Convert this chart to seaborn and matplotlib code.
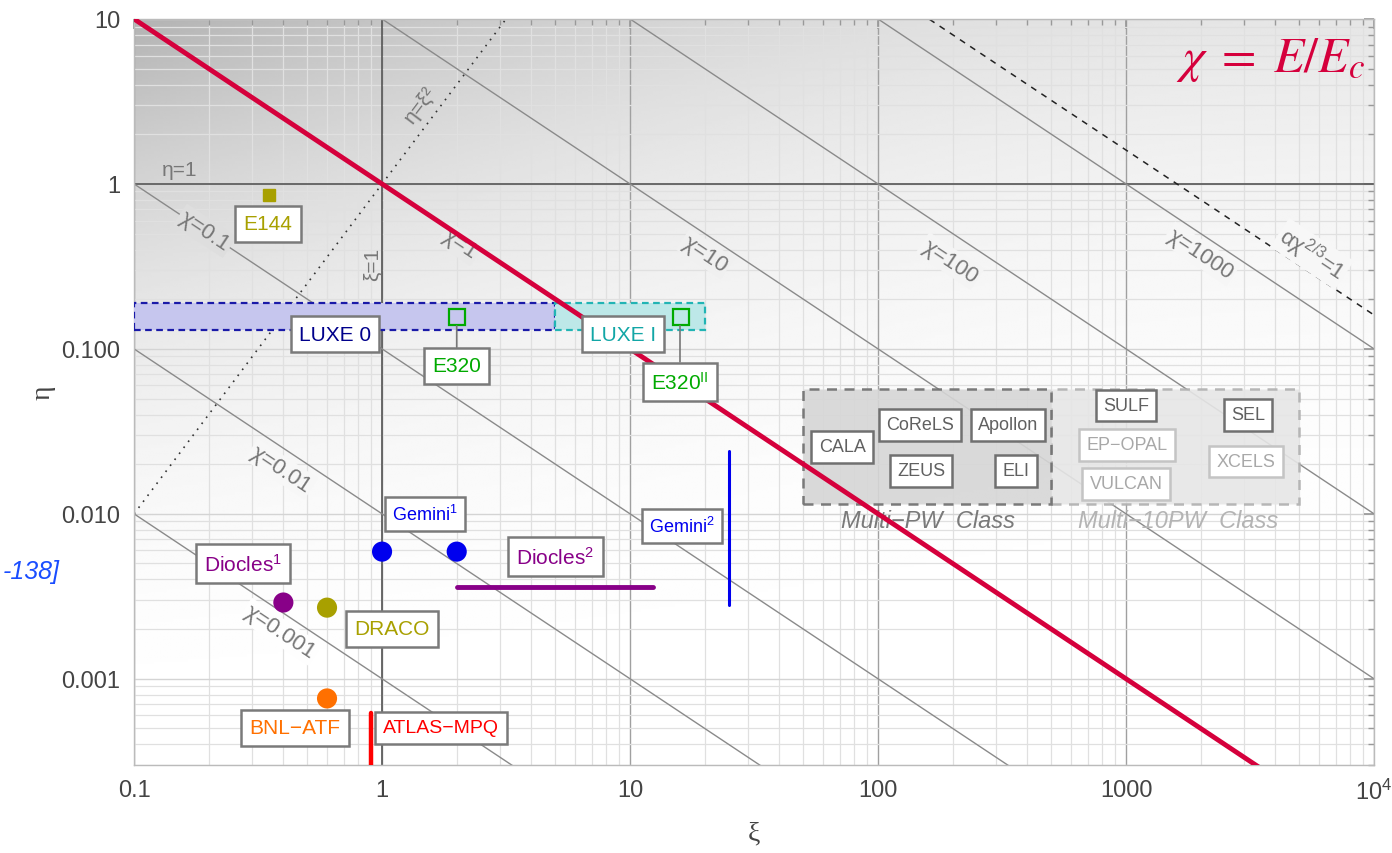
import numpy as np
import pandas as pd
import matplotlib
matplotlib.use("Agg")
import matplotlib.pyplot as plt
import seaborn as sns
from matplotlib.patches import Rectangle
from matplotlib.ticker import FixedLocator, FixedFormatter, LogLocator, NullFormatter

# ---- data ----
chi_levels = [0.001, 0.01, 0.1, 1, 10, 100, 1000]
chi_texts = ["χ=0.001", "χ=0.01", "χ=0.1", "χ=1", "χ=10", "χ=100", "χ=1000"]
chi_label_xi = [0.388, 0.392, 0.193, 2.06, 20.1, 195, 2003]
chi_label_eta = [0.00193, 0.0187, 0.52, 0.433, 0.377, 0.341, 0.377]
alpha_fs = 1 / 137.036
chi_rad = alpha_fs ** -1.5  # alpha chi^(2/3) = 1

point_names = ["Gemini", "Gemini", "Diocles", "DRACO", "BNL-ATF"]
point_xi = [1.0, 2.0, 0.4, 0.6, 0.6]
point_eta = [0.0059, 0.0059, 0.0029, 0.0027, 0.00076]

e144_xi, e144_eta = 0.35, 0.86
e320_xi = [2.0, 16.0]
e320_eta = [0.155, 0.155]

luxe_eta = [0.13, 0.19]
luxe0_xi = [0.1, 5.0]
luxe1_xi = [5.0, 20.0]

gemini2_xi = 25.0
gemini2_eta = [0.0028, 0.024]
diocles2_xi = [2.0, 12.4]
diocles2_eta = 0.0036
atlas_xi = 0.9
atlas_eta = [0.0001, 0.00062]

pw_eta = [0.0115, 0.057]
pw_xi = [50, 500]
pw10_xi = [500, 5000]

x_ticks = [0.1, 1, 10, 100, 1000, 10000]
x_ticklabels = ["0.1", "1", "10", "100", "1000", "$10^4$"]
y_ticks = [0.001, 0.01, 0.1, 1, 10]
y_ticklabels = ["0.001", "0.010", "0.100", "1", "10"]

colors = {"Gemini": "#0000ee", "Diocles": "#880088", "DRACO": "#a8a000",
          "BNL-ATF": "#ff7000"}
red = "#d5003c"

# ---- style ----
sns.set_theme(style="white")
plt.rcParams["font.family"] = ["Liberation Sans", "DejaVu Sans"]
plt.rcParams["mathtext.fontset"] = "custom"
plt.rcParams["mathtext.rm"] = "Liberation Sans"
plt.rcParams["mathtext.it"] = "Liberation Sans:italic"
plt.rcParams["mathtext.bf"] = "Liberation Sans:bold"


def bg_level(u, v):
    # u: 0 left -> 1 right, v: 0 top -> 1 bottom
    d = 0.10 * (1 - v) ** 3 + 0.20 * (1 - u) ** 2 * (1 - v) ** 2
    return 1 - d


fig = plt.figure(figsize=(13.92, 8.54), dpi=100)
rect = [0.0963, 0.103, 0.8908, 0.8736]
bg = fig.add_axes(rect, zorder=0)
uu, vv = np.meshgrid(np.linspace(0, 1, 400), np.linspace(0, 1, 300))
bg.imshow(bg_level(uu, vv), cmap="gray", vmin=0, vmax=1, aspect="auto",
          extent=[0, 1, 0, 1], origin="upper", interpolation="bilinear")
bg.axis("off")

ax = fig.add_axes(rect, zorder=1)
ax.set_facecolor("none")
ax.set_xscale("log")
ax.set_yscale("log")
ax.set_xlim(0.1, 1e4)
ax.set_ylim(3.0e-4, 10)

# grid
ax.xaxis.set_minor_locator(LogLocator(base=10, subs=np.arange(2, 10)))
ax.yaxis.set_minor_locator(LogLocator(base=10, subs=np.arange(2, 10)))
ax.xaxis.set_minor_formatter(NullFormatter())
ax.yaxis.set_minor_formatter(NullFormatter())
ax.grid(which="minor", color="#e0e0e0", lw=0.9, zorder=0)
ax.xaxis.grid(which="major", color="#a0a0a0", lw=1.0)
ax.yaxis.grid(which="major", color="#d4d4d4", lw=1.0)
ax.set_axisbelow(True)
ax.axhline(1, color="#606060", lw=1.3, zorder=1)
ax.axvline(1, color="#606060", lw=1.3, zorder=1)

ax.xaxis.set_major_locator(FixedLocator(x_ticks))
ax.xaxis.set_major_formatter(FixedFormatter(x_ticklabels))
ax.yaxis.set_major_locator(FixedLocator(y_ticks))
ax.yaxis.set_major_formatter(FixedFormatter(y_ticklabels))
ax.tick_params(which="both", direction="in", color="#999999", top=True, right=True,
               labelsize=17, labelcolor="#444444", pad=10)
ax.tick_params(which="major", length=7)
ax.tick_params(which="minor", length=4)
for s in ax.spines.values():
    s.set_color("#bbbbbb")
    s.set_linewidth(1.0)

ax.set_xlabel("ξ", fontsize=20, family="Liberation Serif", color="#444444", labelpad=12)
ax.set_ylabel("η", fontsize=20, family="Liberation Serif", color="#444444", labelpad=4)

# chi lines
xi_ends = np.array([0.1, 1e4])
for c in chi_levels:
    ax.plot(xi_ends, c / xi_ends, color="#8a8a8a", lw=1.0, zorder=2)
ax.plot(xi_ends, chi_rad / xi_ends, color="#222222", lw=1.1, ls=(0, (4, 4)), zorder=2)
ax.plot(xi_ends, xi_ends ** 2, color="#333333", lw=1.2, ls=(0, (1, 3.5)), zorder=2)


def label_bg(x, y):
    px = ax.transData.transform((x, y))
    u, v = ax.transAxes.inverted().transform(px)
    g = bg_level(u, 1 - v)
    return (g, g, g)


ang = -np.degrees(np.arctan(ax.get_position().height * 854 / 4.52 /
                            (ax.get_position().width * 1392 / 5)))
for t, x, y in zip(chi_texts, chi_label_xi, chi_label_eta):
    ax.text(x, y, t, fontsize=16, color="#777777", rotation=ang, ha="center", va="center",
            rotation_mode="anchor", zorder=3,
            bbox=dict(boxstyle="square,pad=0.1", fc=label_bg(x, y), ec="none"))
ax.text(5620, 0.377, r"αχ$^{\mathrm{2/3}}$=1", fontsize=16, color="#777777", rotation=ang,
        ha="center", va="center", rotation_mode="anchor", zorder=3,
        bbox=dict(boxstyle="square,pad=0.1", fc=label_bg(5620, 0.377), ec="none"))
ax.text(0.153, 1.22, "η=1", fontsize=15, color="#777777", ha="center", va="center", zorder=3)
ax.text(0.91, 0.33, "ξ=1", fontsize=15, color="#777777", rotation=90, ha="center",
        va="center", zorder=3)
ax.text(1.43, 3.06, "η=ξ²", fontsize=15, color="#777777", rotation=53, ha="center",
        va="center", zorder=3)

# red chi = 1 line
ax.plot(xi_ends, 1 / xi_ends, color=red, lw=3.5, zorder=4, solid_capstyle="butt")
ax.text(0.993, 0.946, r"$\chi\;=\;E/E_c$", transform=ax.transAxes, fontsize=36,
        color=red, ha="right", va="center", zorder=6, math_fontfamily="stix")

# LUXE bands
ax.add_patch(Rectangle((luxe0_xi[0], luxe_eta[0]), luxe0_xi[1] - luxe0_xi[0],
                       luxe_eta[1] - luxe_eta[0], fc="#c6c6ee", ec="#1a1aa8",
                       lw=1.6, ls=(0, (3, 2)), zorder=3))
ax.add_patch(Rectangle((luxe1_xi[0], luxe_eta[0]), luxe1_xi[1] - luxe1_xi[0],
                       luxe_eta[1] - luxe_eta[0], fc="#bde8e8", ec="#22b4b4",
                       lw=1.6, ls=(0, (3, 2)), zorder=3))

# PW class regions
ax.add_patch(Rectangle((pw10_xi[0], pw_eta[0]), pw10_xi[1] - pw10_xi[0],
                       pw_eta[1] - pw_eta[0], fc="#e6e6e6", ec="#b0b0b0",
                       lw=1.8, ls=(0, (4, 3)), alpha=0.9, zorder=2))
ax.add_patch(Rectangle((pw_xi[0], pw_eta[0]), pw_xi[1] - pw_xi[0],
                       pw_eta[1] - pw_eta[0], fc="#d6d6d6", ec="#6e6e6e",
                       lw=1.8, ls=(0, (4, 3)), alpha=0.9, zorder=2))

# facility points
pts = pd.DataFrame({"xi": point_xi, "eta": point_eta, "name": point_names})
sns.scatterplot(data=pts, x="xi", y="eta", hue="name", palette=colors, s=210,
                edgecolor="none", legend=False, ax=ax, zorder=5)
ax.set_xlabel("ξ")
ax.set_ylabel("η")
ax.plot([e144_xi], [e144_eta], marker="s", ms=9, color="#a8a000", ls="none", zorder=5)
ax.plot(e320_xi, e320_eta, marker="s", ms=11, mfc="none", mec="#00aa00", mew=1.6,
        ls="none", zorder=6)
ax.plot([gemini2_xi, gemini2_xi], gemini2_eta, color="#0000ee", lw=2.2, zorder=5)
ax.plot(diocles2_xi, [diocles2_eta, diocles2_eta], color="#880088", lw=3.5, zorder=5)
ax.plot([atlas_xi, atlas_xi], atlas_eta, color="#ff0000", lw=3.2, zorder=5)

# label boxes
box = dict(boxstyle="square,pad=0.4", fc="white", ec="#7a7a7a", lw=1.8)
labels = [
    ("E144", 0.347, 0.572, "#a8a000", 15),
    ("LUXE 0", 0.646, 0.123, "#00008b", 15),
    ("LUXE I", 9.37, 0.123, "#12a6a6", 15),
    ("Gemini$^{\\mathrm{1}}$", 1.49, 0.0100, "#0000ee", 13),
    ("Gemini$^{\\mathrm{2}}$", 16.2, 0.00845, "#0000ee", 13),
    ("Diocles$^{\\mathrm{1}}$", 0.275, 0.00498, "#880088", 15),
    ("Diocles$^{\\mathrm{2}}$", 4.99, 0.0055, "#880088", 15),
    ("DRACO", 1.097, 0.00201, "#a8a000", 15),
    ("BNL−ATF", 0.446, 0.000504, "#ff7000", 15),
    ("ATLAS−MPQ", 1.73, 0.000504, "#ff0000", 14),
]
for t, x, y, c, fs in labels:
    ax.text(x, y, t, color=c, fontsize=fs, ha="center", va="center", bbox=box, zorder=7)

for t, x, y in [("E320", 2.0, 0.0788), ("E320$^{\\mathrm{II}}$", 15.9, 0.063)]:
    ax.annotate(t, xy=(x, 0.155), xytext=(x, y), color="#00aa00", fontsize=15,
                ha="center", va="center", bbox=box, zorder=7,
                arrowprops=dict(arrowstyle="-", color="#777777", lw=1.2, shrinkA=0, shrinkB=6))

dark_box = dict(boxstyle="square,pad=0.4", fc="white", ec="#707070", lw=1.8)
light_box = dict(boxstyle="square,pad=0.4", fc="white", ec="#c4c4c4", lw=1.8)
pw_labels = [
    ("CALA", 71.6, 0.0255, "dark"), ("CoReLS", 147.6, 0.0346, "dark"),
    ("Apollon", 334, 0.0346, "dark"), ("ZEUS", 149, 0.0182, "dark"),
    ("ELI", 360, 0.0182, "dark"), ("SULF", 1000, 0.0452, "dark"),
    ("EP−OPAL", 1009, 0.0262, "light"), ("VULCAN", 1000, 0.0152, "light"),
    ("SEL", 3100, 0.0398, "dark"), ("XCELS", 3050, 0.0207, "light"),
]
for t, x, y, k in pw_labels:
    ax.text(x, y, t, fontsize=13, ha="center", va="center", zorder=7,
            color="#606060" if k == "dark" else "#a8a8a8",
            bbox=dark_box if k == "dark" else light_box)
ax.text(159, 0.00907, "Multi−PW  Class", fontsize=17, style="italic", color="#7a7a7a",
        ha="center", va="center", zorder=3)
ax.text(1620, 0.00907, "Multi−10PW  Class", fontsize=17, style="italic", color="#b4b4b4",
        ha="center", va="center", zorder=3)

fig.text(0.043, 1 - 572 / 854, "-138]", fontsize=18, style="italic", color="#1a4dff",
         ha="right", va="center")

fig.savefig("out.png", dpi=100)
